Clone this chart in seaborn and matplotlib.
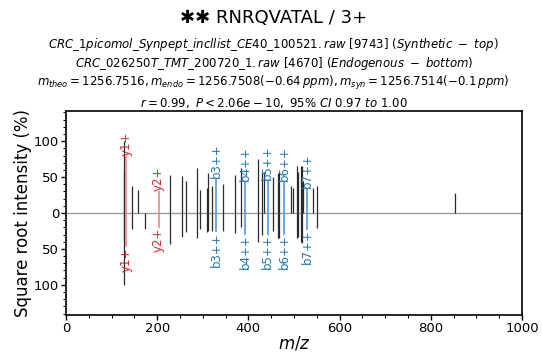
import matplotlib
matplotlib.use("Agg")
import matplotlib.pyplot as plt
from matplotlib.ticker import MultipleLocator, FuncFormatter
import seaborn as sns

# synthetic spectrum (top), unannotated peaks
top_mz = [126.1, 127.1, 145.5, 157.0, 227.3, 253.6, 262.4, 286.5, 294.6, 308.5, 310.7,
          319.5, 345.0, 370.6, 383.0, 420.0, 430.5, 435.0, 454.6, 464.0, 467.0, 492.7,
          497.0, 506.0, 509.5, 514.6, 517.0, 519.0, 541.0, 549.8, 853.0]
top_int = [100, 60, 37, 32, 53, 52, 45, 63, 32, 35, 56,
           37, 40, 53, 62, 75, 58, 57, 50, 56, 57, 37,
           35, 65, 57, 65, 65, 45, 35, 37, 28]

# endogenous spectrum (bottom), unannotated peaks
bot_mz = [126.1, 127.1, 145.5, 174.0, 229.0, 253.6, 262.4, 286.5, 294.6, 308.5, 310.7,
          319.5, 345.0, 370.6, 383.0, 420.0, 430.5, 454.6, 464.0, 467.0, 506.0, 509.5,
          514.6, 517.0, 549.8]
bot_int = [100, 39, 22, 22, 43, 33, 26, 35, 22, 27, 25,
           25, 25, 28, 20, 40, 30, 25, 35, 35, 35, 33,
           40, 42, 21]

# annotated fragment ions
ion_labels = ["y1+", "y2+", "b3++", "b4++", "b5++", "b6++", "b7++"]
ion_mz = [132.1, 203.1, 328.7, 392.7, 442.3, 477.8, 528.3]
ion_top = [80, 30, 49, 44, 46, 44, 35]
ion_bot = [48, 21, 27, 30, 30, 30, 23]

sns.set_style("ticks")
plt.rcParams["font.family"] = ["DejaVu Sans"]
plt.rcParams["text.color"] = "black"
plt.rcParams["axes.labelcolor"] = "black"
plt.rcParams["xtick.color"] = "black"
plt.rcParams["ytick.color"] = "black"

fig = plt.figure(figsize=(5.42, 3.54), dpi=100)
ax = fig.add_axes([0.1218, 0.1102, 0.8413, 0.5762])

ax.axhline(0, color="#999999", lw=1, zorder=1)
ax.vlines(top_mz, 0, top_int, color="#2a2a2a", lw=0.9, zorder=2)
ax.vlines(bot_mz, 0, [-v for v in bot_int], color="#2a2a2a", lw=0.9, zorder=2)

for lab, mz, t, b in zip(ion_labels, ion_mz, ion_top, ion_bot):
    c = "#d62728" if lab.startswith("y") else "#1f77b4"
    lc = "#ee8888" if lab.startswith("y") else "#5599dd"
    ax.vlines(mz, 0, t, color=lc, lw=1.2, zorder=3)
    ax.vlines(mz, 0, -b, color=lc, lw=1.2, zorder=3)
    ax.text(mz, t, lab, rotation=90, ha="center", va="bottom", color=c, fontsize=8.5)
    ax.text(mz, -b, lab, rotation=90, ha="center", va="top", color=c, fontsize=8.5)

ax.set_xlim(0, 1000)
ax.set_ylim(-142, 142)
ax.xaxis.set_major_locator(MultipleLocator(200))
ax.xaxis.set_minor_locator(MultipleLocator(50))
ax.yaxis.set_major_locator(MultipleLocator(50))
ax.yaxis.set_minor_locator(MultipleLocator(10))
ax.yaxis.set_major_formatter(FuncFormatter(lambda v, p: f"{abs(v):.0f}"))
ax.tick_params(axis="both", which="major", labelsize=9.5, length=3.5, width=1, pad=1.5)
ax.tick_params(axis="both", which="minor", length=2, width=0.8)
for s in ax.spines.values():
    s.set_linewidth(1.2)
    s.set_color("black")

ax.set_xlabel("$m/z$", fontsize=12, labelpad=0)
ax.set_ylabel("Square root intensity (%)", fontsize=12, labelpad=1)

fig.text(0.505, 0.949, "✱✱ RNRQVATAL / 3+", ha="center", va="center", fontsize=13,
         family=["DejaVu Sans"])
fig.text(0.505, 0.873, r"$CRC\_1picomol\_Synpept\_incllist\_CE40\_100521.raw$ [9743] ($Synthetic\ -\ top$)",
         ha="center", va="center", fontsize=8.5)
fig.text(0.505, 0.822, r"$CRC\_026250T\_TMT\_200720\_1.raw$ [4670] ($Endogenous\ -\ bottom$)",
         ha="center", va="center", fontsize=8.5)
fig.text(0.505, 0.766, r"$m_{theo} = 1256.7516, m_{endo} = 1256.7508 (-0.64\,ppm), m_{syn} = 1256.7514 (-0.1\,ppm)$",
         ha="center", va="center", fontsize=8.5)
fig.text(0.505, 0.709, r"$r = 0.99,\ P < 2.06e-10,\ 95\%\ CI\ 0.97\ to\ 1.00$",
         ha="center", va="center", fontsize=8.5)

fig.savefig("out.png", dpi=100)
